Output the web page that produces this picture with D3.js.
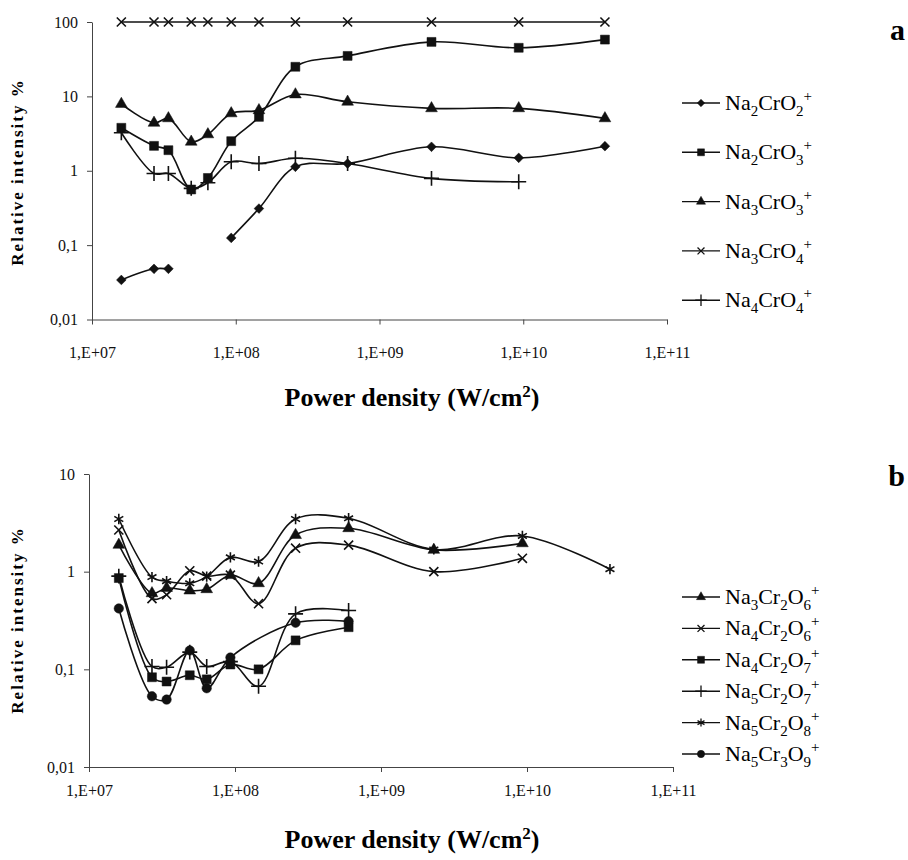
<!DOCTYPE html>
<html>
<head>
<meta charset="utf-8">
<script src="https://cdn.jsdelivr.net/npm/d3@7"></script>
<style>
  body { margin: 0; background: #fff; }
  svg, svg text { font-family: "Liberation Serif", "Times New Roman", serif; }
  .axis path, .axis line { stroke: #444; }
  .axis text { font-family: "Liberation Serif", "Times New Roman", serif; font-size: 16px; fill: #111; }
</style>
</head>
<body>
<div id="chart"></div>
<script>
// Power density values (W/cm2), shared by both panels
const POWER = [1.6e7, 2.7e7, 3.4e7, 4.9e7, 6.4e7, 9.3e7, 1.45e8, 2.6e8, 6.0e8, 2.3e9, 9.3e9, 3.7e10];
const X_TICKS = [1e7, 1e8, 1e9, 1e10, 1e11];

// Panel a
const NA2CRO2 = [0.034, 0.048, 0.048, null, null, 0.125, 0.31, 1.13, 1.25, 2.1, 1.49, 2.14];
const NA2CRO3 = [3.78, 2.16, 1.89, 0.56, 0.80, 2.5, 5.3, 25, 35, 54, 45, 58];
const NA3CRO3 = [7.9, 4.4, 5.06, 2.45, 3.08, 5.9, 6.5, 10.6, 8.45, 6.9, 6.9, 5.06];
const NA3CRO4 = [100, 100, 100, 100, 100, 100, 100, 100, 100, 100, 100, 100];
const NA4CRO4 = [3.24, 0.92, 0.92, 0.58, 0.69, 1.32, 1.25, 1.47, 1.25, 0.79, 0.71, null];
const A_TICKS = [0.01, 0.1, 1, 10, 100];

// Panel b
const NA3CR2O6 = [1.88, 0.60, 0.68, 0.64, 0.66, 0.92, 0.76, 2.37, 2.78, 1.67, 1.95, null];
const NA4CR2O6 = [2.67, 0.53, 0.58, 1.02, 0.90, 0.92, 0.47, 1.74, 1.87, 1.0, 1.37, null];
const NA4CR2O7 = [0.86, 0.083, 0.075, 0.087, 0.079, 0.112, 0.10, 0.198, 0.27, null, null, null];
const NA5CR2O7 = [0.9, 0.107, 0.105, 0.15, 0.107, 0.12, 0.067, 0.37, 0.40, null, null, null];
const NA5CR2O8 = [3.46, 0.88, 0.80, 0.76, 0.89, 1.40, 1.27, 3.46, 3.52, 1.69, 2.32, 1.06];
const NA5CR3O9 = [0.42, 0.053, 0.049, 0.156, 0.064, 0.132, null, 0.30, 0.31, null, null, null];
const B_TICKS = [0.01, 0.1, 1, 10];

const WIDTH = 908;
const HEIGHT = 860;
const SERIF = '"Liberation Serif", "Times New Roman", serif';

const svg = d3.select("#chart").append("svg")
  .attr("width", WIDTH)
  .attr("height", HEIGHT)
  .attr("font-family", SERIF);

// marker definitions
const MARKERS = {
  diamond:  { type: d3.symbolDiamond2, size: 60, fill: true },
  square:   { type: d3.symbolSquare, size: 80, fill: true },
  triangle: { type: d3.symbolTriangle, size: 60, fill: true },
  cross:    { type: d3.symbolX, size: 55, fill: false },
  plus:     { type: d3.symbolPlus, size: 75, fill: false },
  asterisk: { type: d3.symbolAsterisk, size: 75, fill: false },
  circle:   { type: d3.symbolCircle, size: 70, fill: true }
};

drawPanel({
  x0: 92, x1: 667, yTop: 22, yBottom: 319.5,
  yDomain: [0.01, 100], yTicks: A_TICKS,
  xLabelPad: 22, connectGaps: false,
  letter: "a", letterY: 40,
  titleY: 406, yTitleY: 172,
  legendY: 103, legendStep: 49.3,
  series: [
    { name: "Na2CrO2+", values: NA2CRO2, marker: "diamond" },
    { name: "Na2CrO3+", values: NA2CRO3, marker: "square" },
    { name: "Na3CrO3+", values: NA3CRO3, marker: "triangle" },
    { name: "Na3CrO4+", values: NA3CRO4, marker: "cross" },
    { name: "Na4CrO4+", values: NA4CRO4, marker: "plus" }
  ]
});

drawPanel({
  x0: 89, x1: 673, yTop: 474, yBottom: 767,
  yDomain: [0.01, 10], yTicks: B_TICKS,
  xLabelPad: 13, connectGaps: true,
  letter: "b", letterY: 486,
  titleY: 848, yTitleY: 620,
  legendY: 597, legendStep: 31.4,
  series: [
    { name: "Na3Cr2O6+", values: NA3CR2O6, marker: "triangle" },
    { name: "Na4Cr2O6+", values: NA4CR2O6, marker: "cross" },
    { name: "Na4Cr2O7+", values: NA4CR2O7, marker: "square" },
    { name: "Na5Cr2O7+", values: NA5CR2O7, marker: "plus" },
    { name: "Na5Cr2O8+", values: NA5CR2O8, marker: "asterisk" },
    { name: "Na5Cr3O9+", values: NA5CR3O9, marker: "circle" }
  ]
});

/**
 * Draws one log-log panel with its axes and legend.
 */
function drawPanel (cfg) {

  const xScale = d3.scaleLog().domain([1e7, 1e11]).range([cfg.x0, cfg.x1]);
  const yScale = d3.scaleLog().domain(cfg.yDomain).range([cfg.yBottom, cfg.yTop]);

  const g = svg.append("g");

  const xAxis = d3.axisBottom(xScale)
    .tickValues(X_TICKS)
    .tickSize(5)
    .tickSizeOuter(0)
    .tickPadding(cfg.xLabelPad)
    .tickFormat(d => "1,E+" + d3.format("02d")(Math.round(Math.log10(d))));
  g.append("g").attr("class", "axis")
    .attr("transform", `translate(0,${cfg.yBottom})`)
    .call(xAxis)
    .attr("font-family", SERIF);

  const yAxis = d3.axisLeft(yScale)
    .tickValues(cfg.yTicks)
    .tickSize(5)
    .tickSizeOuter(0)
    .tickPadding(9)
    .tickFormat(d => String(d).replace(".", ","));
  g.append("g").attr("class", "axis")
    .attr("transform", `translate(${cfg.x0},0)`)
    .call(yAxis)
    .attr("font-family", SERIF);

  // data lines
  cfg.series.forEach(s => {
    let pts = POWER.map((p, i) => ({ x: p, y: s.values[i] }));
    if (cfg.connectGaps) pts = pts.filter(d => d.y != null);
    const line = d3.line()
      .defined(d => d.y != null)
      .x(d => xScale(d.x))
      .y(d => yScale(d.y))
      .curve(d3.curveCatmullRom.alpha(0.5));
    g.append("path")
      .attr("d", line(pts))
      .attr("fill", "none")
      .attr("stroke", "#111")
      .attr("stroke-width", 1.6);
  });

  // markers on top
  cfg.series.forEach(s => {
    const m = MARKERS[s.marker];
    const sym = d3.symbol().type(m.type).size(m.size);
    g.append("g").selectAll("path")
      .data(POWER.map((p, i) => ({ x: p, y: s.values[i] })).filter(d => d.y != null))
      .join("path")
      .attr("transform", d => `translate(${xScale(d.x)},${yScale(d.y)})`)
      .attr("d", sym)
      .attr("fill", m.fill ? "#111" : "none")
      .attr("stroke", "#111")
      .attr("stroke-width", m.fill ? 0.5 : 1.6);
  });

  // legend
  const legend = g.append("g");
  cfg.series.forEach((s, i) => {
    const y = cfg.legendY + i * cfg.legendStep;
    const m = MARKERS[s.marker];
    legend.append("line")
      .attr("x1", 682).attr("x2", 720)
      .attr("y1", y).attr("y2", y)
      .attr("stroke", "#111").attr("stroke-width", 1.4);
    legend.append("path")
      .attr("transform", `translate(701,${y})`)
      .attr("d", d3.symbol().type(m.type).size(m.size * 0.6))
      .attr("fill", m.fill ? "#111" : "none")
      .attr("stroke", "#111")
      .attr("stroke-width", m.fill ? 0.5 : 1.3);
    formula(legend.append("text")
      .attr("x", 725)
      .attr("y", y + 7)
      .attr("font-size", 22), s.name);
  });

  // titles
  const xt = g.append("text")
    .attr("x", 412)
    .attr("y", cfg.titleY)
    .attr("text-anchor", "middle")
    .attr("font-size", 26)
    .attr("font-weight", "bold");
  xt.append("tspan").text("Power density (W/cm");
  xt.append("tspan").attr("font-size", 17).attr("dy", -9).text("2");
  xt.append("tspan").attr("dy", 9).text(")");

  g.append("text")
    .attr("transform", `translate(23,${cfg.yTitleY}) rotate(-90)`)
    .attr("text-anchor", "middle")
    .attr("font-size", 17)
    .attr("font-weight", "bold")
    .attr("letter-spacing", 2)
    .text("Relative intensity %");

  g.append("text")
    .attr("x", 905)
    .attr("y", cfg.letterY)
    .attr("text-anchor", "end")
    .attr("font-size", 30)
    .attr("font-weight", "bold")
    .text(cfg.letter);
}

/**
 * Writes a chemical formula with subscript digits and a superscript charge.
 */
function formula (text, name) {
  const parts = name.match(/[A-Za-z]+|\d+|\+/g);
  let shift = 0;
  parts.forEach(p => {
    let target = 0;
    let size = null;
    if (/\d/.test(p)) { target = 6; size = 15; }
    else if (p === "+") { target = -9; size = 15; }
    const t = text.append("tspan").attr("dy", target - shift).text(p);
    if (size) t.attr("font-size", size);
    shift = target;
  });
}
</script>
</body>
</html>
